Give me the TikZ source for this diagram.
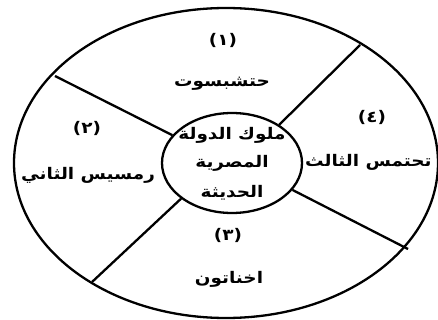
\documentclass[tikz,border=0pt]{standalone}
\usepackage{fontspec}
\newfontfamily\arabicfont[Script=Arabic,FakeStretch=1.15]{DejaVu Sans}
\TeXXeTstate=1
\usetikzlibrary{shapes.geometric}
\begin{document}
\begin{tikzpicture}[x=1pt,y=-1pt,
  ring/.style={draw, ellipse, inner sep=0pt, line width=2.3pt},
  spoke/.style={line width=2.3pt},
  lbl/.style={font=\arabicfont\bfseries\fontsize{16}{18}\selectfont, inner sep=0pt}]
\useasboundingbox (0,0) rectangle (438,320);
\fill[white] (0,0) rectangle (438,320);
\clip (0,0) rectangle (438,320);
\node[ring, minimum width=424pt, minimum height=310pt] (outer) at (226,163) {};
\node[ring, minimum width=140pt, minimum height=100pt] (inner) at (232,163) {};
\coordinate (o1) at (55,76);
\coordinate (o2) at (360,45);
\coordinate (o3) at (408,249);
\coordinate (o4) at (92,282);
\draw[spoke] (inner.155.7) -- (o1);
\draw[spoke] (inner.39.4) -- (o2);
\draw[spoke] (inner.-24.7) -- (o3);
\draw[spoke] (inner.215.4) -- (o4);
\node[lbl] (n1) at (223,40) {\beginR(١)\endR};
\node[lbl] (t1) at (222,84) {\beginR حتشبسوت\endR};
\node[lbl] (n2) at (87,128) {\beginR(٢)\endR};
\node[lbl] (t2) at (88,175) {\beginR رمسيس الثاني\endR};
\node[lbl] (n3) at (228,235) {\beginR(٣)\endR};
\node[lbl] (t3) at (229,279) {\beginR اخناتون\endR};
\node[lbl] (n4) at (372,117) {\beginR(٤)\endR};
\node[lbl, anchor=west] (t4) at (305,162) {\beginR تحتمس الثالث\endR};
\node[lbl] (c1) at (232,135) {\beginR ملوك الدولة\endR};
\node[lbl] (c2) at (232,163) {\beginR المصرية\endR};
\node[lbl] (c3) at (232,193) {\beginR الحديثة\endR};
\end{tikzpicture}
\end{document}
